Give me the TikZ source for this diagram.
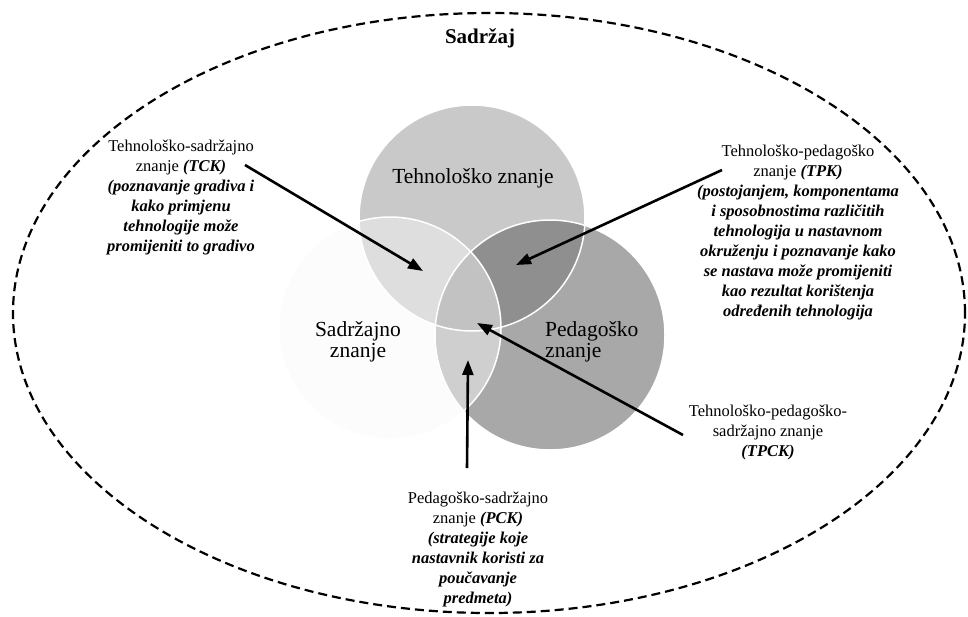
\documentclass[tikz,border=0pt]{standalone}
\usepackage{fontspec}
\setmainfont{Liberation Serif}
\usepackage{xcolor}
\usetikzlibrary{arrows.meta}
\definecolor{tOnly}{gray}{0.79}
\definecolor{cOnly}{gray}{0.99}
\definecolor{pOnly}{gray}{0.66}
\definecolor{tcCol}{gray}{0.87}
\definecolor{tpCol}{gray}{0.56}
\definecolor{pcCol}{gray}{0.81}
\definecolor{tpcCol}{gray}{0.76}
\def\rT{113pt}
\def\rC{111pt}
\def\rP{115pt}
\newcommand{\bi}[1]{\textbf{\textit{#1}}}

\begin{document}
\begin{tikzpicture}[
    x=1pt, y=-1pt,
    >={Triangle[length=15pt,width=11pt]},
    lbl/.style={align=center, inner sep=0pt, font=\fontsize{16.5}{20}\selectfont},
    setlbl/.style={inner sep=0pt, font=\fontsize{21.5}{21}\selectfont},
    arr/.style={->, line width=2.6pt},
    rim/.style={white, line width=1.5pt}
]
\useasboundingbox (0,0) rectangle (968,616);

% circle centres
\coordinate (cT) at (472,218);
\coordinate (cC) at (390,328);
\coordinate (cP) at (550,335);

% Venn regions
\fill[cOnly] (cC) circle[radius=\rC];
\fill[pOnly] (cP) circle[radius=\rP];
\fill[tOnly] (cT) circle[radius=\rT];
\begin{scope}
\clip (cC) circle[radius=\rC];
\fill[pcCol] (cP) circle[radius=\rP];
\end{scope}
\begin{scope}
\clip (cT) circle[radius=\rT];
\fill[tcCol] (cC) circle[radius=\rC];
\fill[tpCol] (cP) circle[radius=\rP];
\clip (cC) circle[radius=\rC];
\fill[tpcCol] (cP) circle[radius=\rP];
\end{scope}
\draw[rim] (cT) circle[radius=\rT];
\draw[rim] (cC) circle[radius=\rC];
\draw[rim] (cP) circle[radius=\rP];

% outer boundary
\draw[line width=2.2pt, dash pattern=on 9pt off 5pt]
(489,313) ellipse[x radius=476pt, y radius=300pt];

% set labels
\node[font=\fontsize{21}{21}\selectfont\bfseries, inner sep=0pt] (sadrzaj) at (480,38) {Sadržaj};
\node[setlbl] (tk) at (473,178) {Tehnološko znanje};
\node[setlbl, align=center] (ck) at (358,342) {Sadržajno\\znanje};
\node[setlbl, align=left, anchor=west] (pk) at (545,342) {Pedagoško\\znanje};

% intersection labels
\node[lbl] (tck) at (181,198) {Tehnološko-sadržajno\\znanje \bi{(TCK)}\\\bi{(poznavanje gradiva i}\\\bi{kako primjenu}\\\bi{tehnologije može}\\\bi{promijeniti to gradivo}};
\node[lbl] (tpk) at (798,233) {Tehnološko-pedagoško\\znanje \bi{(TPK)}\\\bi{(postojanjem, komponentama}\\\bi{i sposobnostima različitih}\\\bi{tehnologija u nastavnom}\\\bi{okruženju i poznavanje kako}\\\bi{se nastava može promijeniti}\\\bi{kao rezultat korištenja}\\\bi{određenih tehnologija}};
\node[lbl] (tpck) at (768,433) {Tehnološko-pedagoško-\\sadržajno znanje\\\bi{(TPCK)}};
\node[lbl] (pck) at (478,550) {Pedagoško-sadržajno\\znanje \bi{(PCK)}\\\bi{(strategije koje}\\\bi{nastavnik koristi za}\\\bi{poučavanje}\\\bi{predmeta)}};

% arrow ends
\coordinate (tckS) at (245,165);
\coordinate (tckE) at (423,271);
\coordinate (tpkS) at (722,170);
\coordinate (tpkE) at (516,265);
\coordinate (tpckS) at (683,435);
\coordinate (tpckE) at (477,323);
\coordinate (pckS) at (467,468);
\coordinate (pckE) at (468,360);
\draw[arr] (tckS) -- (tckE);
\draw[arr] (tpkS) -- (tpkE);
\draw[arr] (tpckS) -- (tpckE);
\draw[arr] (pckS) -- (pckE);
\end{tikzpicture}
\end{document}
